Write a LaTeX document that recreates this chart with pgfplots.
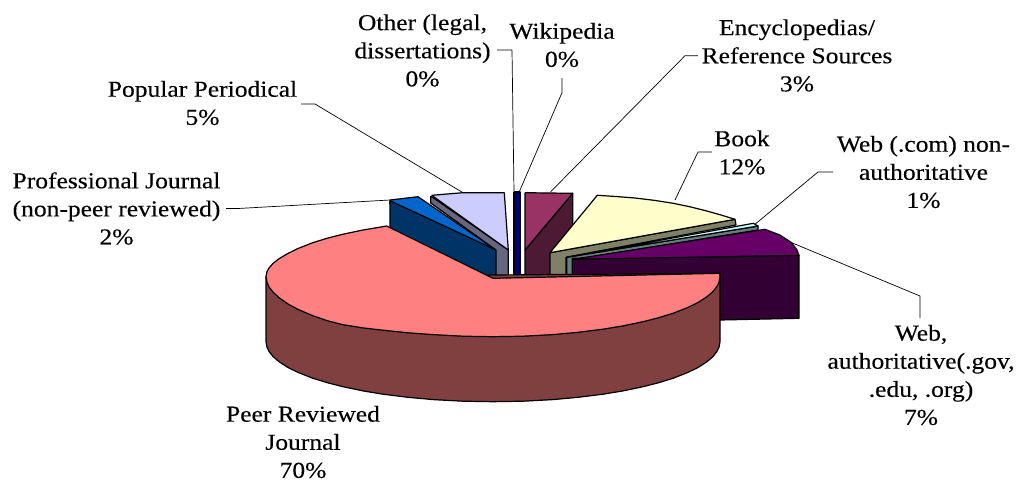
\documentclass[border=0pt]{standalone}
\usepackage{pgfplots}
\usepackage{fontspec}
\pgfplotsset{compat=1.18}
\setmainfont{Liberation Serif}[FakeStretch=1.12,FakeBold=0.25]
\definecolor{pinkT}{HTML}{FF8080}\definecolor{pinkS}{HTML}{804040}
\definecolor{blueT}{HTML}{0066CC}\definecolor{blueS}{HTML}{003366}
\definecolor{lavT}{HTML}{CCCCFF}\definecolor{lavS}{HTML}{666680}
\definecolor{navy}{HTML}{000080}
\definecolor{plumT}{HTML}{993366}\definecolor{plumS}{HTML}{4D1A33}
\definecolor{yelT}{HTML}{FFFFCC}\definecolor{yelS}{HTML}{808066}
\definecolor{cyanT}{HTML}{CCFFFF}\definecolor{cyanS}{HTML}{668080}
\definecolor{purT}{HTML}{660066}\definecolor{purS}{HTML}{330033}
\tikzset{lab/.style={font=\fontsize{22.8}{28.1}\selectfont, align=center, text=black, inner sep=0pt}}
\begin{document}
\begin{tikzpicture}
\path[use as bounding box] (0,0) rectangle (1021pt,483pt);
\begin{axis}[
  at={(0,0)}, anchor=south west,
  scale only axis, width=1021pt, height=483pt,
  xmin=0, xmax=1021, ymin=0, ymax=483, y dir=reverse,
  axis lines=none, clip=false,
  every axis plot/.append style={line join=round},
]
% leaders
\addplot[black,line width=0.7pt] coordinates {(497,50)(512,50)(514,192)};
\addplot[black,line width=0.7pt] coordinates {(562,78)(562,92.7)(519.3,191.7)};
\addplot[black,line width=0.7pt] coordinates {(550.7,191.7)(685,55.7)(698,55.7)};
\addplot[black,line width=0.7pt] coordinates {(675,200)(698,152)(712,152)};
\addplot[black,line width=0.7pt] coordinates {(755,224.3)(818,172)(833,172)};
\addplot[black,line width=0.7pt] coordinates {(791.7,242.7)(920,296)(920,318)};
\addplot[black,line width=0.7pt] coordinates {(463,192.7)(315,104)(301,104)};
\addplot[black,line width=0.7pt] coordinates {(390,200)(238,208.5)(226,208.5)};
% professional journal
\addplot[draw=black,line width=1.2pt,fill=blueT] coordinates {(390,200)(418,196.7)(496,250)(390,204)(390,200)};
\addplot[draw=black,line width=1.2pt,fill=blueS] coordinates {(390,200.7)(496,250)(496,278)(390,278)(390,200.7)};
% popular periodical
\addplot[draw=black,line width=1.2pt,fill=lavS] coordinates {(430.7,196)(508.3,250)(508.3,278)(496,278)(496,250)(430.7,203)(430.7,196)};
\addplot[draw=black,line width=1.2pt,fill=lavT] coordinates {(431.7,195.3)(463,192.7)(504.3,192.7)(508.3,250)(431.7,195.3)};
% other and wikipedia
\addplot[draw=black,line width=1.2pt,fill=navy] coordinates {(514,192)(520,192)(520,278)(514,278)(514,192)};
% encyclopedias
\addplot[draw=black,line width=1.2pt,fill=plumS] coordinates {(525,250)(572.7,193.3)(572.7,240)(551,278)(525,278)(525,250)};
\addplot[draw=black,line width=1.2pt,fill=plumT] coordinates {(525,192.7)(572.7,193.3)(525,250)(525,192.7)};
% book
\addplot[draw=black,line width=1.2pt,fill=yelS] coordinates {(550,252.7)(735,219.3)(736,225)(566,257.3)(566,278)(550,278)(550,252.7)};
\addplot[draw=black,line width=1.2pt,fill=yelT] coordinates {(550,252.7)(597.3,195.3)(616,196.5)(635,198)(654,200.3)(673.3,203.3)(690,206.8)(705,210.5)(720,214.7)(735,219.3)(550,252.7)};
% web .com
\addplot[draw=black,line width=1.2pt,fill=cyanS] coordinates {(566.7,257.3)(758,226)(758,230)(572.7,260)(572.7,278)(566.7,278)(566.7,257.3)};
\addplot[draw=black,line width=1.2pt,fill=cyanT] coordinates {(566.7,257.3)(753.3,223.3)(758,226)(566.7,257.3)};
% web authoritative
\addplot[draw=black,line width=1.2pt,fill=purS] coordinates {(572.3,258.3)(799,255.3)(799,318.3)(720,320)(572.3,320)(572.3,258.3)};
\addplot[draw=black,line width=1.2pt,fill=purT] coordinates {(572.7,259.3)(765,229.3)(772,232)(780,235)(786,239)(791.7,242.7)(794,246)(797,250)(799,255.3)(572.7,259.3)};
% peer reviewed side
\addplot[draw=black,line width=1.2pt,fill=pinkS] coordinates {(266,276.7)(266,341.7)(267,347.3)(269,351.4)(273,356.5)(279,361.7)(288,367.5)(298,372.4)(313,378.3)(328,382.9)(343,386.7)(363,390.9)(383,394.2)(408,397.3)(433,399.6)(463,401.2)(493,401.7)(523,401.2)(553,399.6)(578,397.3)(603,394.2)(623,390.9)(643,386.7)(658,382.9)(673,378.3)(688,372.4)(698,367.5)(707,361.7)(713,356.5)(717,351.4)(719,347.3)(720,341.7)(720,273.3)(266,276.7)};
% peer reviewed top
\addplot[draw=black,line width=1.2pt,fill=pinkT] coordinates {(493,278.3)(386.7,226)(363,230)(343,234.2)(328,238)(313,242.6)(298,248.5)(288,253.4)(279,258.7)(273,263.4)(269,268)(267,271.5)(266,276.7)(267,282.3)(269,286.9)(273,292)(279,297.7)(288,304)(298,309.4)(313,315.8)(328,320.9)(343,324.7)(363,327.9)(383,330.2)(408,332.8)(433,334.6)(463,336.2)(493,336.7)(523,336.2)(553,334.6)(578,332.3)(603,329.2)(623,325.9)(643,321.7)(658,317.9)(673,313.3)(688,307.4)(698,302.5)(707,296.7)(713,291.5)(717,286.4)(719,282.3)(720,276.7)(719.3,273.3)(493,278.3)};
% labels
\node[lab] at (axis cs:422.5,50.5) {Other (legal,\\dissertations)\\0\%};
\node[lab] at (axis cs:562,45) {Wikipedia\\0\%};
\node[lab] at (axis cs:797,55.5) {Encyclopedias/\\Reference Sources\\3\%};
\node[lab] at (axis cs:742,152.5) {Book\\12\%};
\node[lab] at (axis cs:923.5,172) {Web (.com) non-\\authoritative\\1\%};
\node[lab] at (axis cs:202.5,103) {Popular Periodical\\5\%};
\node[lab] at (axis cs:116.5,208.5) {Professional Journal\\(non-peer reviewed)\\2\%};
\node[lab] at (axis cs:303,442) {Peer Reviewed\\Journal\\70\%};
\node[lab] at (axis cs:921,375) {Web,\\authoritative(.gov,\\.edu, .org)\\7\%};
\end{axis}
\end{tikzpicture}
\end{document}
